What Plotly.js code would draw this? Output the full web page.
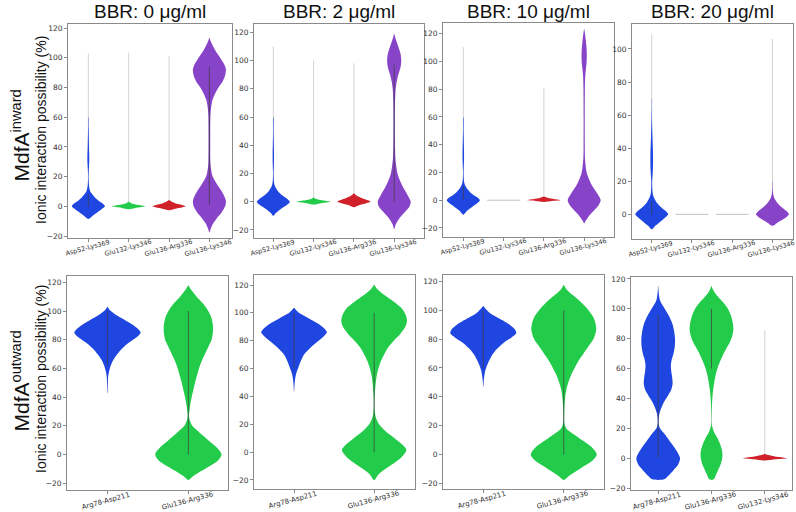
<!DOCTYPE html>
<html><head><meta charset="utf-8">
<script src="https://cdn.plot.ly/plotly-3.0.1.min.js"></script>
<style>html,body{margin:0;padding:0;background:#fff}#c{width:796px;height:512px}</style>
</head><body><div id="c"></div>
<script>
// ---------------- DATA ----------------
const panelTitles = ['BBR: 0 μg/ml', 'BBR: 2 μg/ml', 'BBR: 10 μg/ml', 'BBR: 20 μg/ml'];
const inwardCats = ['Asp52-Lys369', 'Glu132-Lys346', 'Glu136-Arg336', 'Glu136-Lys346'];
const outwardCats = ['Arg78-Asp211', 'Glu136-Arg336'];
const outwardCats20 = ['Arg78-Asp211', 'Glu136-Arg336', 'Glu132-Lys346'];
const yTicks = [-20, 0, 20, 40, 60, 80, 100, 120];

// Violin density profiles: y levels (%) and relative half-width (0..1)
// BBR 0, inward
const in0_asp_y = [-8.5,-6,-4,-2,0,2,4,6,8,10,13,17,20,25,30,35,40,45,50,55,60];
const in0_asp_d = [0,0.3,0.55,0.8,1,0.85,0.6,0.4,0.25,0.12,0.05,0.02,0.012,0.03,0.055,0.055,0.04,0.03,0.02,0.012,0.005];
const in0_g132_y = [-2,-1,0,1,2,3.2];
const in0_g132_d = [0,0.45,1,0.5,0.15,0];
const in0_a336_y = [-2.7,-1.5,0,1.5,3,4.3];
const in0_a336_d = [0,0.45,1,0.55,0.2,0];
const in0_l346_y = [-17.5,-15,-12,-8,-4,0,3,5,10,15,20,25,30,40,50,60,64,68,72,76,80,84,88,92,95,100,105,110,113.5];
const in0_l346_d = [0,0.08,0.2,0.45,0.75,0.95,1.0,0.97,0.75,0.45,0.2,0.1,0.06,0.05,0.05,0.06,0.08,0.12,0.2,0.35,0.55,0.8,0.95,1.0,0.92,0.65,0.35,0.12,0];
const in0_tailMax = [103, 103.4, 101.2, 113.5];
const in0_box = [[0,8], null, null, [1,94]];

// BBR 2, inward
const in2_asp_y = [-10,-8,-6,-4,-2,0,2,4,6,8,10,12,15,20,25,30,35,40,50,60];
const in2_asp_d = [0,0.15,0.35,0.6,0.85,1,0.85,0.6,0.4,0.25,0.14,0.07,0.03,0.015,0.03,0.04,0.04,0.03,0.015,0.005];
const in2_g132_y = [-2,-1,0,1,2,3];
const in2_g132_d = [0,0.45,1,0.5,0.15,0];
const in2_a336_y = [-4,-2.5,-1,0,1,2.5,4,6];
const in2_a336_d = [0,0.3,0.75,1,0.85,0.5,0.2,0];
const in2_l346_y = [-19.3,-16,-12,-8,-4,0,5,10,15,20,30,40,50,60,70,80,85,90,95,100,105,110,115,119];
const in2_l346_d = [0,0.1,0.3,0.6,0.9,1.0,0.8,0.55,0.35,0.2,0.08,0.05,0.04,0.04,0.05,0.09,0.15,0.25,0.38,0.43,0.38,0.25,0.1,0];
const in2_tailMax = [110, 100, 98, 119];
const in2_box = [null, null, null, [0,98]];

// BBR 10, inward
const in10_asp_y = [-10.5,-8,-6,-4,-2,0,2,4,6,8,10,12,15,20,25,30,35,40,45,50,60];
const in10_asp_d = [0,0.2,0.4,0.62,0.85,1,0.85,0.6,0.4,0.25,0.14,0.07,0.03,0.015,0.03,0.045,0.045,0.035,0.025,0.015,0.005];
const in10_g132_y = [0];
const in10_g132_d = [1];
const in10_a336_y = [-1.2,-0.5,0,0.8,1.6,2.6];
const in10_a336_d = [0,0.5,1,0.6,0.25,0];
const in10_l346_y = [-16.7,-15,-12,-8,-4,0,5,10,15,20,30,40,60,80,85,90,95,100,105,110,115,120,123.4];
const in10_l346_d = [0,0.08,0.25,0.55,0.85,1.0,0.78,0.5,0.3,0.15,0.05,0.035,0.03,0.04,0.05,0.07,0.11,0.15,0.16,0.14,0.1,0.05,0];
const in10_tailMax = [110.4, 0, 80.6, 123.4];
const in10_box = [[0,10], null, null, null];

// BBR 20, inward
const in20_asp_y = [-9,-7,-5,-3,-1,0,2,4,6,8,10,12,15,20,25,30,35,40,45,50,55,60,65,70];
const in20_asp_d = [0,0.2,0.45,0.7,0.92,1,0.85,0.6,0.4,0.25,0.14,0.07,0.035,0.025,0.06,0.08,0.08,0.07,0.05,0.035,0.02,0.012,0.006,0.002];
const in20_g132_y = [0];
const in20_g132_d = [1];
const in20_a336_y = [0];
const in20_a336_d = [1];
const in20_l346_y = [-6.9,-5,-3,-1,0,2,4,6,8,10,12,15,20];
const in20_l346_d = [0,0.3,0.65,0.92,1,0.85,0.6,0.38,0.22,0.1,0.05,0.015,0.003];
const in20_tailMax = [109, 0, 0, 106];
const in20_box = [[0,8], null, null, null];

// BBR 0, outward
const out0_a78_y = [42.7,45,50,55,58,62,66,70,74,78,82,85,88,92,96,100,103];
const out0_a78_d = [0,0.006,0.012,0.025,0.05,0.1,0.18,0.3,0.45,0.65,0.9,1.0,0.9,0.65,0.35,0.1,0];
const out0_g136_y = [-17.7,-15,-12,-8,-4,0,5,10,15,20,24,27,30,35,40,45,50,55,60,65,70,75,80,85,90,95,100,105,110,115,117.9];
const out0_g136_d = [0,0.15,0.35,0.65,0.9,1.0,0.85,0.6,0.35,0.12,0.04,0.02,0.03,0.06,0.1,0.15,0.2,0.26,0.32,0.4,0.5,0.6,0.7,0.74,0.74,0.7,0.6,0.45,0.25,0.08,0];
const out0_tailMax = [103, 117.9];
const out0_box = [[62,100], [0,100]];

// BBR 2, outward
const out2_a78_y = [43.4,48,52,56,60,65,70,75,79,83,86,88,92,96,100,103.7];
const out2_a78_d = [0,0.012,0.03,0.06,0.12,0.2,0.3,0.5,0.7,0.9,1.0,0.95,0.75,0.45,0.15,0];
const out2_g136_y = [-20,-16,-12,-8,-4,0,2,5,10,15,20,25,30,35,40,45,50,55,60,65,70,75,80,85,90,94,98,103,108,113,117,120.2];
const out2_g136_d = [0,0.13,0.35,0.6,0.82,0.96,0.98,0.88,0.62,0.35,0.15,0.05,0.015,0.008,0.015,0.03,0.05,0.08,0.13,0.2,0.3,0.42,0.6,0.8,0.95,1.0,0.97,0.85,0.6,0.3,0.1,0];
const out2_tailMax = [103.7, 120.2];
const out2_box = [[60,100], [0,100]];

// BBR 10, outward
const out10_a78_y = [47,50,54,58,62,66,70,74,78,81,84,87,90,94,98,102.9];
const out10_a78_d = [0,0.01,0.03,0.06,0.12,0.2,0.3,0.45,0.65,0.85,1.0,0.95,0.8,0.5,0.2,0];
const out10_g136_y = [-17.6,-15,-12,-8,-4,0,5,10,14,18,22,25,30,35,40,45,50,55,60,65,70,75,80,86,90,95,100,105,110,114,117.7];
const out10_g136_d = [0,0.15,0.35,0.62,0.88,1.0,0.85,0.55,0.3,0.08,0.015,0.01,0.015,0.025,0.045,0.08,0.14,0.22,0.33,0.45,0.6,0.75,0.9,0.98,0.97,0.9,0.75,0.55,0.3,0.1,0];
const out10_tailMax = [102.9, 117.7];
const out10_box = [[60,100], [0,100]];

// BBR 20, outward
const out20_a78_y = [-14.6,-14,-12,-8,-4,0,4,8,12,16,20,23,26,30,34,38,42,46,50,54,58,62,66,70,75,80,85,90,95,100,105,110,115.3];
const out20_a78_d = [0,0.3,0.45,0.7,0.92,1.0,0.88,0.7,0.5,0.3,0.08,0.02,0.02,0.06,0.15,0.28,0.45,0.6,0.66,0.64,0.6,0.58,0.62,0.7,0.76,0.77,0.73,0.65,0.5,0.3,0.1,0.03,0];
const out20_g136_y = [-14.6,-14,-12,-8,-4,0,3,6,10,14,18,22,25,30,35,40,45,50,55,60,65,70,74,78,82,86,90,95,100,104,108,112,115.3];
const out20_g136_d = [0,0.12,0.18,0.3,0.42,0.49,0.5,0.47,0.38,0.25,0.1,0.02,0.005,0.01,0.02,0.04,0.07,0.12,0.18,0.27,0.4,0.55,0.7,0.85,0.95,1.0,0.98,0.9,0.75,0.55,0.3,0.1,0];
const out20_g132_y = [-1.5,-0.7,0,1,2,2.8];
const out20_g132_d = [0,0.5,1,0.55,0.2,0];
const out20_tailMax = [115.3, 115.3, 85.8];
const out20_box = [[0,96], [60,100], null];

// ---------------- STYLE ----------------
const COLORS = ['#1f46e0', '#22cc4a', '#d0202a', '#8844c8'];
const HW = 0.41;
const W = 796, H = 512;

const panels = [
  {cats: inwardCats, ys:[in0_asp_y,in0_g132_y,in0_a336_y,in0_l346_y], ds:[in0_asp_d,in0_g132_d,in0_a336_d,in0_l346_d], tail: in0_tailMax, box: in0_box,
   px:[68,232], py:[24,238], xr:[0.496,4.56], yr:[-21.3,122.7], lf: 6.5, lo: 10},
  {cats: inwardCats, ys:[in2_asp_y,in2_g132_y,in2_a336_y,in2_l346_y], ds:[in2_asp_d,in2_g132_d,in2_a336_d,in2_l346_d], tail: in2_tailMax, box: in2_box,
   px:[254,424], py:[24,238], xr:[0.52,4.74], yr:[-25.7,125.9], lf: 6.5, lo: 10},
  {cats: inwardCats, ys:[in10_asp_y,in10_g132_y,in10_a336_y,in10_l346_y], ds:[in10_asp_d,in10_g132_d,in10_a336_d,in10_l346_d], tail: in10_tailMax, box: in10_box,
   px:[443,614], py:[23,237], xr:[0.496,4.74], yr:[-26.5,127.7], lf: 6.5, lo: 10},
  {cats: inwardCats, ys:[in20_asp_y,in20_g132_y,in20_a336_y,in20_l346_y], ds:[in20_asp_d,in20_g132_d,in20_a336_d,in20_l346_d], tail: in20_tailMax, box: in20_box,
   px:[632,793], py:[24,239], xr:[0.51,4.51], yr:[-14.9,115.1], lf: 6.5, lo: 10},
  {cats: outwardCats, ys:[out0_a78_y,out0_g136_y], ds:[out0_a78_d,out0_g136_d], tail: out0_tailMax, box: out0_box,
   px:[67,228], py:[276,490], xr:[0.5,2.49], yr:[-24.7,124.4], lf: 7, lo: 11},
  {cats: outwardCats, ys:[out2_a78_y,out2_g136_y], ds:[out2_a78_d,out2_g136_d], tail: out2_tailMax, box: out2_box,
   px:[254,415], py:[275,489], xr:[0.5,2.51], yr:[-26.5,127.2], lf: 7, lo: 11},
  {cats: outwardCats, ys:[out10_a78_y,out10_g136_y], ds:[out10_a78_d,out10_g136_d], tail: out10_tailMax, box: out10_box,
   px:[443,604], py:[275,489], xr:[0.5,2.5], yr:[-23.9,124.4], lf: 7, lo: 11},
  {cats: outwardCats20, ys:[out20_a78_y,out20_g136_y,out20_g132_y], ds:[out20_a78_d,out20_g136_d,out20_g132_d], tail: out20_tailMax, box: out20_box,
   px:[631,792], py:[276.7,490], xr:[0.49,3.51], yr:[-21.3,121.5], lf: 7, lo: 11}
];

const traces = [];
const layout = {
  width: W, height: H, margin: {l:0, r:0, t:0, b:0},
  paper_bgcolor: '#fff', plot_bgcolor: '#fff', showlegend: false,
  font: {family: 'DejaVu Sans, sans-serif', color: '#333'},
  annotations: []
};

panels.forEach((p, k) => {
  const n = k + 1;
  const xa = n === 1 ? 'x' : 'x' + n;
  const ya = n === 1 ? 'y' : 'y' + n;
  const axCommon = {showgrid: false, zeroline: false, showline: true, mirror: true,
    linecolor: '#8a8a8a', linewidth: 1, ticks: 'outside', ticklen: 3, tickcolor: '#8a8a8a',
    fixedrange: true};
  layout['xaxis' + (n === 1 ? '' : n)] = Object.assign({}, axCommon, {
    domain: [p.px[0] / W, p.px[1] / W], range: p.xr, anchor: ya,
    tickvals: p.cats.map((c, i) => i + 1), showticklabels: false
  });
  layout['yaxis' + (n === 1 ? '' : n)] = Object.assign({}, axCommon, {
    domain: [1 - p.py[1] / H, 1 - p.py[0] / H], range: p.yr, anchor: xa,
    tickvals: yTicks, tickfont: {size: 7.5, color: '#333', family: 'DejaVu Sans, sans-serif'}
  });
  p.cats.forEach((c, i) => {
    const pos = i + 1;
    // category tick label (slightly rotated, centred under its tick)
    layout.annotations.push({xref: xa, yref: 'paper', x: pos, y: 1 - (p.py[1] + p.lo) / H,
      text: c, showarrow: false, textangle: -15, xanchor: 'center', yanchor: 'middle', xshift: -1,
      font: {size: p.lf, color: '#333', family: 'DejaVu Sans, sans-serif'}});
    const ys = p.ys[i], ds = p.ds[i];
    const color = COLORS[i];
    if (ys.length === 1) {
      traces.push({type: 'scatter', mode: 'lines', xaxis: xa, yaxis: ya, hoverinfo: 'skip',
        x: [pos - HW * ds[0], pos + HW * ds[0]], y: [ys[0], ys[0]],
        line: {color: 'rgba(170,170,170,0.7)', width: 1}});
      return;
    }
    // light tail line
    traces.push({type: 'scatter', mode: 'lines', xaxis: xa, yaxis: ya, hoverinfo: 'skip',
      x: [pos, pos], y: [ys[0], p.tail[i]],
      line: {color: 'rgba(175,175,175,0.55)', width: 1}});
    // violin body
    const xs = [], yy = [];
    ys.forEach((y, j) => { xs.push(pos + HW * ds[j]); yy.push(y); });
    for (let j = ys.length - 1; j >= 0; j--) { xs.push(pos - HW * ds[j]); yy.push(ys[j]); }
    traces.push({type: 'scatter', mode: 'lines', xaxis: xa, yaxis: ya, hoverinfo: 'skip',
      x: xs, y: yy, fill: 'toself', fillcolor: color,
      line: {color: color, width: 0, shape: 'spline', smoothing: 0.8}});
    // inner line
    if (p.box[i]) {
      traces.push({type: 'scatter', mode: 'lines', xaxis: xa, yaxis: ya, hoverinfo: 'skip',
        x: [pos, pos], y: p.box[i], line: {color: 'rgba(60,60,60,0.7)', width: 1}});
    }
  });
  if (k < 4) {
    layout.annotations.push({xref: 'paper', yref: 'paper', x: (p.px[0] + p.px[1]) / 2 / W, y: 1 - 11 / H,
      text: panelTitles[k], showarrow: false, xanchor: 'center', yanchor: 'middle',
      font: {size: 19, color: '#111', family: 'Liberation Sans, Arial, sans-serif'}});
  }
});

// Row labels
layout.annotations.push({xref: 'paper', yref: 'paper', x: 20 / W, y: 1 - 135.5 / H, textangle: -90,
  text: 'MdfA<sup>inward</sup>', showarrow: false, xanchor: 'center', yanchor: 'middle',
  font: {size: 21, color: '#111', family: 'Liberation Sans, Arial, sans-serif'}});
layout.annotations.push({xref: 'paper', yref: 'paper', x: 20 / W, y: 1 - 381.5 / H, textangle: -90,
  text: 'MdfA<sup>outward</sup>', showarrow: false, xanchor: 'center', yanchor: 'middle',
  font: {size: 21, color: '#111', family: 'Liberation Sans, Arial, sans-serif'}});
layout.annotations.push({xref: 'paper', yref: 'paper', x: 41 / W, y: 1 - 130 / H, textangle: -90,
  text: 'Ionic interaction possibility (%)', showarrow: false, xanchor: 'center', yanchor: 'middle',
  font: {size: 14, color: '#111', family: 'Liberation Sans, Arial, sans-serif'}});
layout.annotations.push({xref: 'paper', yref: 'paper', x: 41 / W, y: 1 - 379 / H, textangle: -90,
  text: 'Ionic interaction possibility (%)', showarrow: false, xanchor: 'center', yanchor: 'middle',
  font: {size: 14, color: '#111', family: 'Liberation Sans, Arial, sans-serif'}});

Plotly.newPlot('c', traces, layout, {staticPlot: true, displayModeBar: false});
</script>
</body></html>
